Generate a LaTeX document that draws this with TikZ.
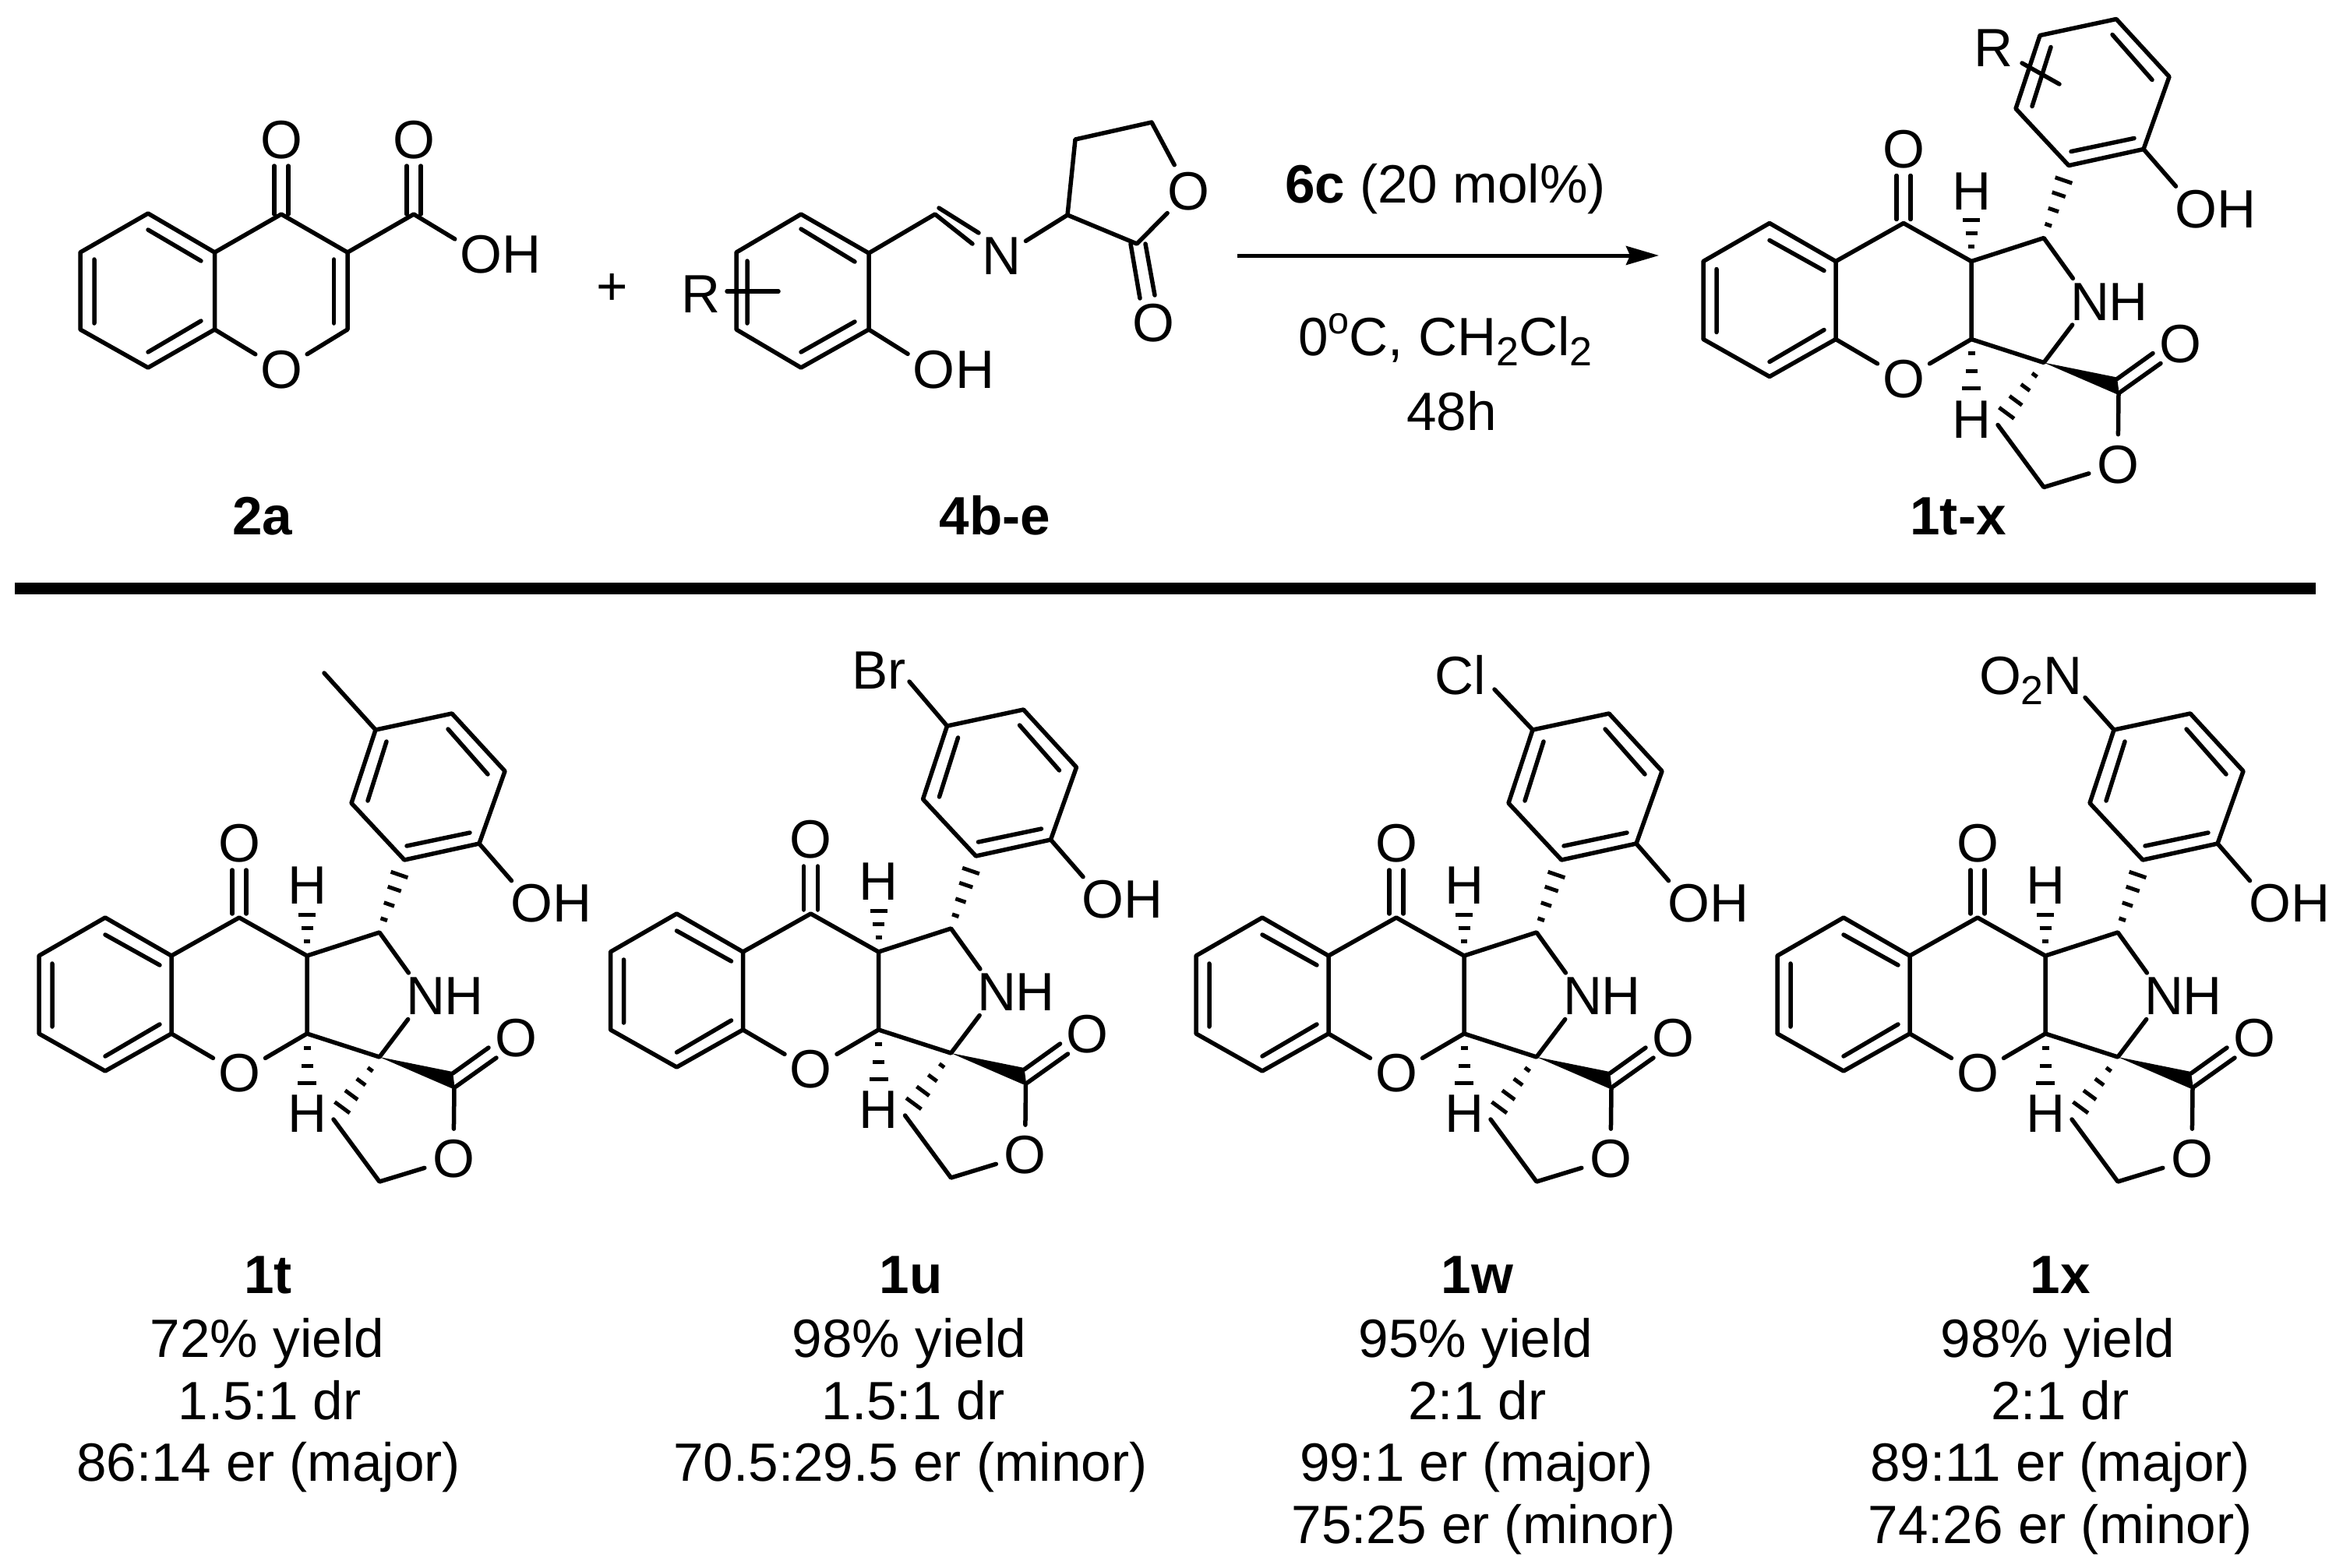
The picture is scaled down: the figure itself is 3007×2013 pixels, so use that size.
\documentclass[tikz,border=0pt]{standalone}
\usepackage{fontspec}
\setmainfont{Liberation Sans}
\usetikzlibrary{calc,arrows.meta}
\newcommand\chemfont{\fontsize{19.7}{23}\selectfont}
\newcommand\subnum[1]{\raisebox{-0.19em}{\fontsize{14.8}{15}\selectfont #1}}
\newcommand\supo{\raisebox{0.40em}{\fontsize{13.8}{15}\selectfont o}}
\newcommand\hashbond[3]{\foreach \pp/\ww in {#3}{\draw[hashline] ($(#1)!\pp!(#2)!\ww mm!90:(#2)$) -- ($(#1)!\pp!(#2)!\ww mm!-90:(#2)$);}}
\tikzset{
  bond/.style={line width=0.55mm,line cap=round,line join=round,black},
  hashline/.style={line width=0.5mm,black},
  atom/.style={circle,inner sep=0.5pt,outer sep=0pt,font=\chemfont},
  plain/.style={inner sep=0pt,outer sep=0pt,font=\chemfont},
  lbl/.style={inner sep=0pt,outer sep=0pt,font=\chemfont,anchor=base,align=center},
  boldlbl/.style={lbl,font=\chemfont\bfseries},
}
% fused tetracyclic product with the 2-hydroxyphenyl group
\newcommand\productcore{
  \coordinate (b1) at (135,1178);
  \coordinate (b2) at (50,1227);
  \coordinate (b3) at (50,1327);
  \coordinate (b4) at (135,1375);
  \coordinate (b5) at (220,1327);
  \coordinate (b6) at (220,1227);
  \coordinate (c4) at (307,1178);
  \coordinate (c3a) at (394,1227);
  \coordinate (c9a) at (394,1327);
  \coordinate (c1) at (487,1197);
  \coordinate (c3) at (487,1357);
  \coordinate (co) at (583,1397);
  \coordinate (cb) at (428,1437);
  \coordinate (ca) at (487,1517);
  \coordinate (a1) at (519,1104);
  \coordinate (a2) at (615,1083);
  \coordinate (a3) at (648,990);
  \coordinate (a4) at (580,916);
  \coordinate (a5) at (482,937);
  \coordinate (a6) at (451,1031);
  \node[atom] (oc) at (307,1083) {O};
  \node[atom] (o1) at (307,1378) {O};
  \node[atom] (n) at (546,1279) {N};
  \node[plain] (nh) at (595,1279) {H};
  \node[plain] (h1) at (394,1137) {H};
  \node[plain] (h2) at (394,1430) {H};
  \node[atom] (oe) at (662,1333) {O};
  \node[atom] (ol) at (582,1488) {O};
  \node[atom] (oh) at (682,1160) {O};
  \node[plain] (ohh) at (734,1160) {H};
  \draw[bond] (b1)--(b2)--(b3)--(b4)--(b5)--(b6)--cycle;
  \draw[bond] (135,1200)--(205,1239) (135,1356)--(205,1315) (67,1237)--(67,1318);
  \draw[bond] (b5)--(o1) (o1)--(c9a)--(c3a)--(c4)--(b6);
  \draw[bond] (298,1173)--(298,1117) (316,1173)--(316,1117);
  \draw[bond] (c3a)--(c1)--(n) (n)--(c3)--(c9a);
  \draw[bond] (co)--(ol) (ol)--(ca)--(cb);
  \fill (c3)--(581,1376)--(584,1399)--cycle;
  \draw[bond] (581,1378)--(627,1345) (585,1395)--(637,1358);
  \hashbond{c3a}{h1}{0.211/0.40,0.40/0.75,0.589/1.10}
  \hashbond{c9a}{h2}{0.175/0.45,0.398/0.75,0.612/1.20}
  \hashbond{c1}{a1}{0.18/0.45,0.387/0.70,0.60/0.90,0.796/1.15}
  \hashbond{c3}{cb}{0.20/0.40,0.40/0.70,0.61/1.00,0.81/1.20}
  \draw[bond] (a1)--(a2)--(a3)--(a4)--(a5)--(a6)--cycle;
  \draw[bond] (a2)--(oh);
  \draw[bond] (575,936)--(626,994) (496,952)--(472,1028) (522,1086)--(603,1069);
}
\begin{document}
\begin{tikzpicture}[x=0.1mm,y=-0.1mm]
\useasboundingbox (0,0) rectangle (3007,2013);

% --- reactant 2a
\begin{scope}[name prefix=ra-]
  \coordinate (b1) at (190,274);
  \coordinate (b2) at (103,324);
  \coordinate (b3) at (103,423);
  \coordinate (b4) at (190,472);
  \coordinate (b5) at (275.5,423);
  \coordinate (b6) at (275.5,324);
  \coordinate (c4) at (361,275);
  \coordinate (c3) at (446,324);
  \coordinate (c2) at (446,423);
  \coordinate (cc) at (531,275);
  \node[atom] (o1) at (361,475) {O};
  \node[atom] (o4) at (361,180) {O};
  \node[atom] (oa) at (531,180) {O};
  \node[atom] (ob) at (617,327) {O};
  \node[plain] (obh) at (669,327) {H};
  \draw[bond] (b1)--(b2)--(b3)--(b4)--(b5)--(b6)--cycle;
  \draw[bond] (121,333)--(121,415) (190,295)--(258,335) (190,452)--(258,412);
  \draw[bond] (b6)--(c4)--(c3)--(c2)--(o1) (o1)--(b5);
  \draw[bond] (428.5,333)--(428.5,415);
  \draw[bond] (352,275)--(352,213) (370,275)--(370,213);
  \draw[bond] (c3)--(cc)--(ob);
  \draw[bond] (522,275)--(522,213) (540,275)--(540,213);
\end{scope}
\node[plain] (plus) at (786,372) {+};
\node[boldlbl] (l2a) at (337,686.5) {2a};

% --- reactant 4b-e
\begin{scope}[name prefix=rb-]
  \coordinate (b1) at (1028,275);
  \coordinate (b2) at (945,324);
  \coordinate (b3) at (945,423);
  \coordinate (b4) at (1028,472);
  \coordinate (b5) at (1115,423);
  \coordinate (b6) at (1115,325);
  \coordinate (ci) at (1200,275);
  \coordinate (cn) at (1370,276);
  \coordinate (cd) at (1380,179);
  \coordinate (ce) at (1478,157);
  \coordinate (cf) at (1459,313);
  \node[plain] (r) at (899.5,378) {R};
  \node[atom] (n) at (1285,329) {N};
  \node[atom] (ox) at (1525.5,246) {O};
  \node[atom] (oy) at (1480,415) {O};
  \node[atom] (oh) at (1198,475) {O};
  \node[plain] (ohh) at (1251,475) {H};
  \coordinate (rs) at (933,374);
  \coordinate (re) at (999,374);
  \draw[bond] (b1)--(b2)--(b3)--(b4)--(b5)--(b6)--cycle;
  \draw[bond] (959,335)--(959,415) (1028,294)--(1097,336) (1028,452)--(1097,413);
  \draw[bond] (rs)--(re);
  \draw[bond] (b6)--(ci)--(1248,313);
  \draw[bond] (1205,267)--(1256,299);
  \draw[bond] (b5)--(oh);
  \draw[bond] (n)--(cn)--(cd)--(ce)--(ox) (ox)--(cf)--(cn);
  \draw[bond] (1451,313)--(1463,383) (1470,313)--(1482,379);
\end{scope}
\node[boldlbl] (l4b) at (1277,686.5) {4b-e};

% --- reaction arrow
\coordinate (arrs) at (1588,328);
\coordinate (arre) at (2129,328);
\draw[line width=0.5mm,-{Stealth[length=4.2mm,width=2.4mm,inset=0.5mm]}] (arrs)--(arre);
\node[lbl] (cat) at (1855,260) {\textbf{6c} (20 mol\%)};
\node[lbl] (cond) at (1855,456) {0\supo C, CH\subnum{2}Cl\subnum{2}};
\node[lbl] (time) at (1863,552) {48h};

% --- product 1t-x
\begin{scope}[shift={(2136,-891.5)},name prefix=pt-]
  \productcore
  \node[plain] (r) at (422,953) {R};
  \coordinate (rs) at (459,972.5);
  \coordinate (re) at (507,999.5);
  \draw[bond] (rs)--(re);
\end{scope}
\node[boldlbl] (l1tx) at (2513,686) {1t-x};

% --- separator
\coordinate (rulel) at (19,755.5);
\coordinate (ruler) at (2972,755.5);
\draw[line width=1.5mm] (rulel)--(ruler);

% --- 1t
\begin{scope}[name prefix=t-]
  \productcore
  \coordinate (me) at (416,864);
  \draw[bond] (a5)--(me);
\end{scope}
% --- 1u
\begin{scope}[shift={(733.5,-5)},name prefix=u-]
  \productcore
  \node[plain,anchor=base west] (br) at (360,889) {Br};
  \coordinate (brs) at (433.5,880);
  \draw[bond] (a5)--(brs);
\end{scope}
% --- 1w
\begin{scope}[shift={(1485,0)},name prefix=w-]
  \productcore
  \node[plain,anchor=base west] (cl) at (356,891) {Cl};
  \coordinate (cls) at (433,885);
  \draw[bond] (a5)--(cls);
\end{scope}
% --- 1x
\begin{scope}[shift={(2231,0)},name prefix=x-]
  \productcore
  \node[plain,anchor=base west] (no) at (309,891) {O\subnum{2}N};
  \coordinate (nos) at (445,895.5);
  \draw[bond] (a5)--(nos);
\end{scope}

% --- captions
\node[boldlbl] (c1t) at (344,1660) {1t};
\node[lbl] (c1ta) at (343,1742.7) {72\% yield};
\node[lbl] (c1tb) at (346,1822) {1.5:1 dr};
\node[lbl] (c1tc) at (344.5,1901.7) {86:14 er (major)};

\node[boldlbl] (c1u) at (1169,1660) {1u};
\node[lbl] (c1ua) at (1167,1742.7) {98\% yield};
\node[lbl] (c1ub) at (1172,1822) {1.5:1 dr};
\node[lbl] (c1uc) at (1168.5,1901.7) {70.5:29.5 er (minor)};

\node[boldlbl] (c1w) at (1896,1660) {1w};
\node[lbl] (c1wa) at (1894,1742.7) {95\% yield};
\node[lbl] (c1wb) at (1896,1822) {2:1 dr};
\node[lbl] (c1wc) at (1895,1901.7) {99:1 er (major)};
\node[lbl] (c1wd) at (1904,1981.7) {75:25 er (minor)};

\node[boldlbl] (c1x) at (2644,1660) {1x};
\node[lbl] (c1xa) at (2641,1742.7) {98\% yield};
\node[lbl] (c1xb) at (2644,1822) {2:1 dr};
\node[lbl] (c1xc) at (2644,1901.7) {89:11 er (major)};
\node[lbl] (c1xd) at (2644,1981.7) {74:26 er (minor)};
\end{tikzpicture}
\end{document}
